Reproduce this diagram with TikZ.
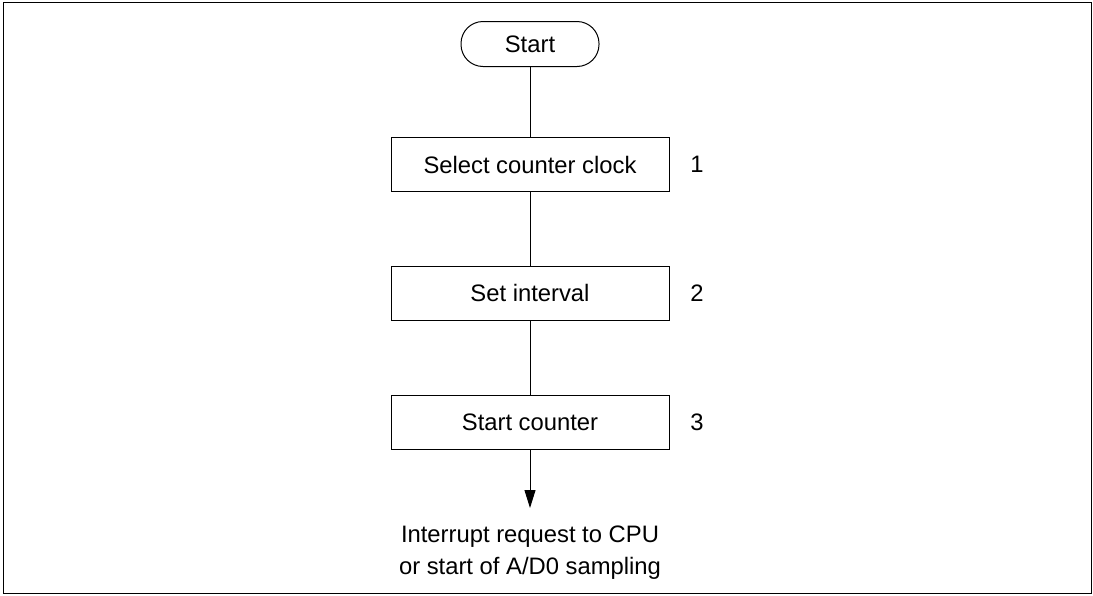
\documentclass[tikz,border=0pt]{standalone}
\usepackage{fontspec}
\setmainfont{Liberation Sans}
\usetikzlibrary{arrows.meta}

\tikzset{
  stepbox/.style={draw,minimum width=278pt,minimum height=54pt,inner sep=0pt},
  termbox/.style={draw,rounded corners=22pt,minimum width=138pt,minimum height=45pt,inner sep=0pt},
  stepnum/.style={inner sep=0pt}
}

\begin{document}
\begin{tikzpicture}[x=1pt,y=-1pt,line width=1pt,
    every node/.append style={font=\fontsize{23.8}{32}\selectfont}]
      \useasboundingbox (0,0) rectangle (1093,595);
      \draw (3,2.5) rectangle (1091.5,593);
      \node [termbox] (S) at (530,44) {Start};
      \node [stepbox] (A) at (530,164.5) {Select counter clock};
      \node [stepbox] (B) at (530,293) {Set interval};
      \node [stepbox] (C) at (530,422) {Start counter};
      \node [stepnum] (A1) at (697,164.5) {1};
      \node [stepnum] (B1) at (697,293) {2};
      \node [stepnum] (C1) at (697,422) {3};
      \coordinate (E) at (530,508);
      \node [align=center,inner sep=0pt] (T) at (530,553) {Interrupt request to CPU\\or start of A/D0 sampling};
      \draw (S) -- (A) -- (B) -- (C);
      \draw [-{Triangle[length=18pt,width=11pt]}] (C) -- (E);
    \end{tikzpicture}
\end{document}
